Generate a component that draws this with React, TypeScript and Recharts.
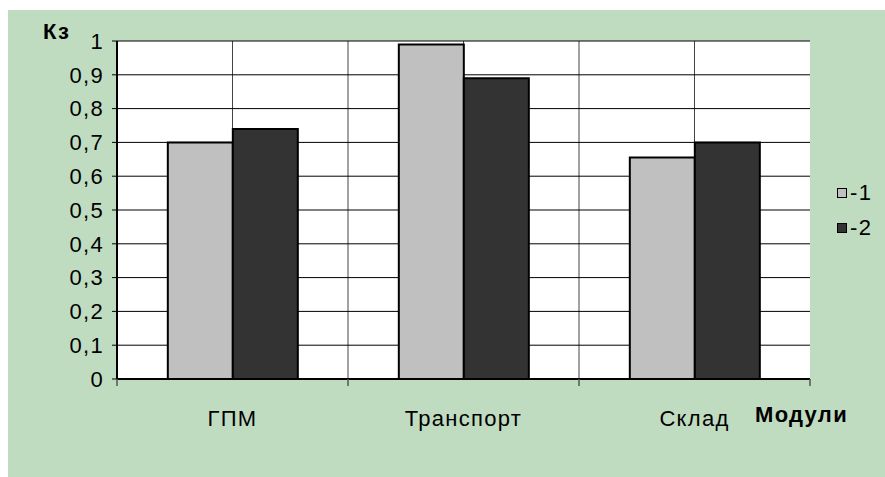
import { BarChart, Bar, XAxis, YAxis, CartesianGrid } from 'recharts'

const categories = ['ГПМ', 'Транспорт', 'Склад']
const series1 = [0.7, 0.99, 0.655]
const series2 = [0.74, 0.89, 0.7]
const seriesNames = ['-1', '-2']
const seriesColors = ['#c0c0c0', '#333333']
const yTicks = [0, 0.1, 0.2, 0.3, 0.4, 0.5, 0.6, 0.7, 0.8, 0.9, 1]

const data = categories.map((name, i) => ({ name, s1: series1[i], s2: series2[i] }))

const FONT = '"Liberation Sans", Arial, sans-serif'
const FS = 22
const LS = 1.3 // the original text is a bit wider than Arial

// category label + tick marks on the band boundaries
function CategoryTick(props: any) {
  const { x, y, payload, index, visibleTicksCount, width } = props
  const half = width / visibleTicksCount / 2
  return (
    <g>
      <line x1={x - half} y1={y} x2={x - half} y2={y + 7} stroke="#555" strokeWidth={1.5} />
      {index === visibleTicksCount - 1 && (
        <line x1={x + half} y1={y} x2={x + half} y2={y + 7} stroke="#555" strokeWidth={1.5} />
      )}
      <text x={x} y={y + 47} textAnchor="middle" fill="#000" fontSize={FS} fontFamily={FONT} letterSpacing={LS}>
        {payload.value}
      </text>
    </g>
  )
}

export default function App() {
  return (
    <div style={{ position: 'absolute', left: 8, top: 10, width: 877, height: 467, background: '#c0dcc0', fontFamily: FONT }}>
      <BarChart
        width={877}
        height={467}
        data={data}
        margin={{ top: 31, right: 75, bottom: 0, left: 0 }}
        barCategoryGap="22%"
        barGap={0}
      >
        <CartesianGrid
          horizontal={false}
          stroke="#444"
          fill="#fff"
          verticalCoordinatesGenerator={({ offset }: any) => {
            const n = categories.length * 2
            const pts = []
            for (let k = 1; k < n; k++) pts.push(offset.left + (offset.width * k) / n)
            return pts
          }}
        />
        <CartesianGrid vertical={false} stroke="#000" />
        <XAxis
          dataKey="name"
          height={98}
          axisLine={{ stroke: '#000', strokeWidth: 2 }}
          tickLine={false}
          tickSize={0}
          tickMargin={0}
          tick={<CategoryTick />}
        />
        <XAxis xAxisId="top" dataKey="name" orientation="top" height={0} tick={false} tickLine={false} axisLine={{ stroke: '#000', strokeWidth: 2 }} />
        <YAxis
          width={109}
          domain={[0, 1]}
          ticks={yTicks}
          interval={0}
          tickSize={5}
          tickMargin={8}
          axisLine={{ stroke: '#000', strokeWidth: 2 }}
          tickLine={{ stroke: '#000' }}
          tick={{ fill: '#000', fontSize: FS, fontFamily: FONT, letterSpacing: LS }}
          tickFormatter={(v: number) => String(v).replace('.', ',')}
        />
        <YAxis yAxisId="frame" orientation="right" width={0} domain={[0, 1]} type="number" tick={false} tickLine={false} axisLine={{ stroke: '#000', strokeWidth: 2 }} />
        <Bar dataKey="s1" name={seriesNames[0]} fill={seriesColors[0]} stroke="#000" strokeWidth={2} isAnimationActive={false} />
        <Bar dataKey="s2" name={seriesNames[1]} fill={seriesColors[1]} stroke="#000" strokeWidth={2} isAnimationActive={false} />
      </BarChart>

      <span style={{ position: 'absolute', left: 35, top: 11, fontSize: FS, lineHeight: `${FS}px`, fontWeight: 'bold', letterSpacing: LS }}>Кз</span>
      <span style={{ position: 'absolute', left: 747, top: 394, fontSize: FS, lineHeight: `${FS}px`, fontWeight: 'bold', letterSpacing: LS }}>Модули</span>

      {seriesNames.map((s, i) => (
        <div key={s} style={{ position: 'absolute', left: 829, top: 172 + i * 35, display: 'flex', alignItems: 'center', fontSize: FS, lineHeight: `${FS}px`, letterSpacing: LS }}>
          <span style={{ display: 'inline-block', width: 8, height: 8, border: '1.5px solid #000', background: seriesColors[i], marginRight: 3 }} />
          <span>{s}</span>
        </div>
      ))}
    </div>
  )
}
